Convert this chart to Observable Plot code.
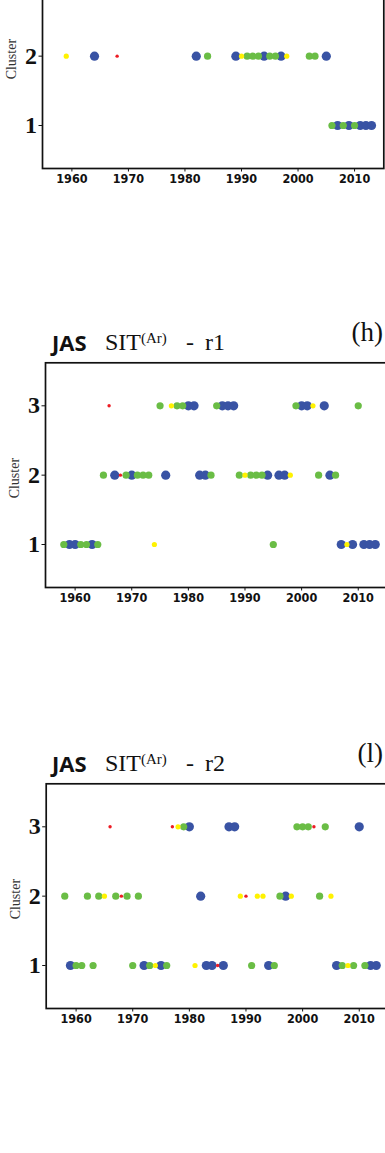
<!DOCTYPE html>
<html>
<head>
<meta charset="utf-8">
<script src="https://cdn.jsdelivr.net/npm/d3@7"></script>
<script src="https://cdn.jsdelivr.net/npm/@observablehq/plot@0.6"></script>
<style>
  html, body { margin: 0; padding: 0; background: #fff; }
  #page { position: relative; width: 385px; height: 1153px; overflow: hidden; background: #fff; }
  .panel { position: absolute; left: 0; width: 400px; }
  .panel svg { max-width: none !important; }
  .t { position: absolute; white-space: nowrap; line-height: 22px; font-size: 22px; color: #111; }
  .jas { font-family: "Open Sans", "Noto Sans", sans-serif; font-weight: 700; }
  .ser { font-family: "Liberation Serif", "Times New Roman", serif; font-size: 24px; }
  .sup { position: relative; top: -7px; font-size: 15px; }
  .tag { position: absolute; right: 2px; font-family: "Liberation Serif", serif; font-size: 27px; line-height: 27px; color: #111; }
</style>
</head>
<body>
<div id="page"></div>
<script>
// ---- shared categories / ticks ----
const clusters = [1, 2, 3];
const xTicks = [1960, 1970, 1980, 1990, 2000, 2010];
const levels = [1, 2, 3, 4];            // 1 = red (smallest) ... 4 = blue (largest)
const levelColors = ["#ed1c24", "#fff200", "#6abd45", "#3953a4"];
const levelRadius = {1: 1.7, 2: 2.6, 3: 3.6, 4: 4.6};

// ---- top panel (cut off; only clusters 1 and 2 visible) ----
const topClusters = [1, 2];
const topC1Years  = [2006, 2007, 2008, 2009, 2010, 2011, 2012, 2013];
const topC1Levels = [3, 4, 3, 4, 3, 4, 4, 4];
const topC2Years  = [1959, 1964, 1968, 1982, 1984, 1989, 1990, 1991, 1992, 1993, 1994, 1995, 1996, 1997, 1998, 2002, 2003, 2005];
const topC2Levels = [2, 4, 1, 4, 3, 4, 2, 3, 3, 3, 4, 3, 3, 4, 2, 3, 3, 4];

// ---- panel (h): JAS SIT(Ar) - r1 ----
const hC1Years  = [1958, 1959, 1960, 1961, 1962, 1963, 1964, 1974, 1995, 2007, 2008, 2009, 2011, 2012, 2013];
const hC1Levels = [3, 4, 4, 3, 3, 4, 3, 2, 3, 4, 2, 4, 4, 4, 4];
const hC2Years  = [1965, 1967, 1968, 1969, 1970, 1971, 1972, 1973, 1976, 1982, 1983, 1984, 1989, 1990, 1991, 1992, 1993, 1994, 1996, 1997, 1998, 2003, 2005, 2006];
const hC2Levels = [3, 4, 1, 3, 4, 3, 3, 3, 4, 4, 4, 3, 3, 2, 3, 3, 3, 4, 4, 4, 2, 3, 4, 3];
const hC3Years  = [1966, 1975, 1977, 1978, 1979, 1980, 1981, 1985, 1986, 1987, 1988, 1999, 2000, 2001, 2002, 2004, 2010];
const hC3Levels = [1, 3, 2, 3, 3, 4, 4, 3, 4, 4, 4, 3, 4, 4, 2, 4, 3];

// ---- panel (l): JAS SIT(Ar) - r2 ----
const lC1Years  = [1959, 1960, 1961, 1963, 1970, 1972, 1973, 1974, 1975, 1976, 1981, 1983, 1984, 1985, 1986, 1991, 1994, 1995, 2006, 2007, 2008, 2009, 2011, 2012, 2013];
const lC1Levels = [4, 3, 3, 3, 3, 4, 3, 2, 4, 3, 2, 4, 4, 1, 4, 3, 4, 3, 4, 3, 2, 3, 3, 4, 4];
const lC2Years  = [1958, 1962, 1964, 1965, 1967, 1968, 1969, 1971, 1982, 1989, 1990, 1992, 1993, 1996, 1997, 1998, 2003, 2005];
const lC2Levels = [3, 3, 3, 2, 3, 1, 3, 3, 4, 2, 1, 2, 2, 3, 4, 2, 3, 2];
const lC3Years  = [1966, 1977, 1978, 1979, 1980, 1987, 1988, 1999, 2000, 2001, 2002, 2004, 2010];
const lC3Levels = [1, 1, 2, 3, 4, 4, 4, 3, 3, 3, 1, 3, 4];

function rows(yearsByCluster, levelsByCluster) {
  const out = [];
  yearsByCluster.forEach((ys, i) => {
    ys.forEach((y, j) => out.push({year: y, cluster: clusters[i], level: levelsByCluster[i][j]}));
  });
  return out;
}

function panel(data, g) {
  return Plot.plot({
    width: g.width, height: g.height,
    marginLeft: g.ml, marginRight: g.width - g.right, marginTop: g.mt, marginBottom: g.mb,
    x: {domain: g.xd},
    y: {domain: [0.38, 3.62]},
    r: {type: "identity"},
    color: {domain: levels, range: levelColors},
    style: {background: "transparent", overflow: "visible", color: "#111", maxWidth: "none"},
    marks: [
      Plot.axisX({ticks: xTicks, tickSize: 3.5, tickPadding: 2.5, tickFormat: d => String(d), label: null,
        fontSize: 12.5, fontWeight: "bold", fontFamily: "'Liberation Sans Narrow', 'Arial Narrow', 'DejaVu Sans Condensed', sans-serif"}),
      Plot.axisY({ticks: g.yTicks, tickSize: 3.5, tickPadding: 2, tickFormat: d => String(d), label: null,
        fontSize: 24, fontWeight: "bold", fontFamily: "'Liberation Serif', serif"}),
      Plot.text(["Cluster"], {frameAnchor: "left", dx: -30.5, dy: 3, rotate: -90, textAnchor: "middle", lineAnchor: "middle",
        fontSize: 14, fontFamily: "'Liberation Serif', serif", fill: "#333"}),
      Plot.dot(data, {x: "year", y: "cluster", r: d => levelRadius[d.level], fill: "level", stroke: null}),
      Plot.frame({stroke: "#111", strokeWidth: 1.7})
    ]
  });
}

const page = document.getElementById("page");
function place(svg, top) {
  const wrap = document.createElement("div");
  wrap.className = "panel";
  wrap.style.top = top + "px";
  svg.style.maxWidth = "none";
  wrap.appendChild(svg);
  page.appendChild(wrap);
}
function title(top, run, tag) {
  const t = document.createElement("div");
  t.style.position = "absolute"; t.style.left = "0"; t.style.top = top + "px"; t.style.width = "385px"; t.style.height = "30px";
  t.innerHTML =
    `<span class="t jas" style="left:52px;top:0">JAS</span>` +
    `<span class="t ser" style="left:105px;top:0">SIT<span class="sup">(Ar)</span></span>` +
    `<span class="t ser" style="left:186px;top:0">-</span>` +
    `<span class="t ser" style="left:205px;top:0">${run}</span>` +
    `<span class="tag" style="top:-12px">${tag}</span>`;
  page.appendChild(t);
}

place(panel(rows([topC1Years, topC2Years], [topC1Levels, topC2Levels]),
  {width: 395, height: 278, ml: 42, right: 383.3, mt: 23.3, mb: 30, xd: [1954.8, 2015.17], yTicks: topClusters}), -80);

title(330.5, "r1", "(h)");
place(panel(rows([hC1Years, hC2Years, hC3Years], [hC1Levels, hC2Levels, hC3Levels]),
  {width: 400, height: 277, ml: 45, right: 390.3, mt: 22.3, mb: 30, xd: [1954.77, 2015.75], yTicks: clusters}), 340);

title(751.5, "r2", "(l)");
place(panel(rows([lC1Years, lC2Years, lC3Years], [lC1Levels, lC2Levels, lC3Levels]),
  {width: 400, height: 278, ml: 45.7, right: 391.3, mt: 23.3, mb: 30, xd: [1954.72, 2015.75], yTicks: clusters}), 760);
</script>
</body>
</html>
